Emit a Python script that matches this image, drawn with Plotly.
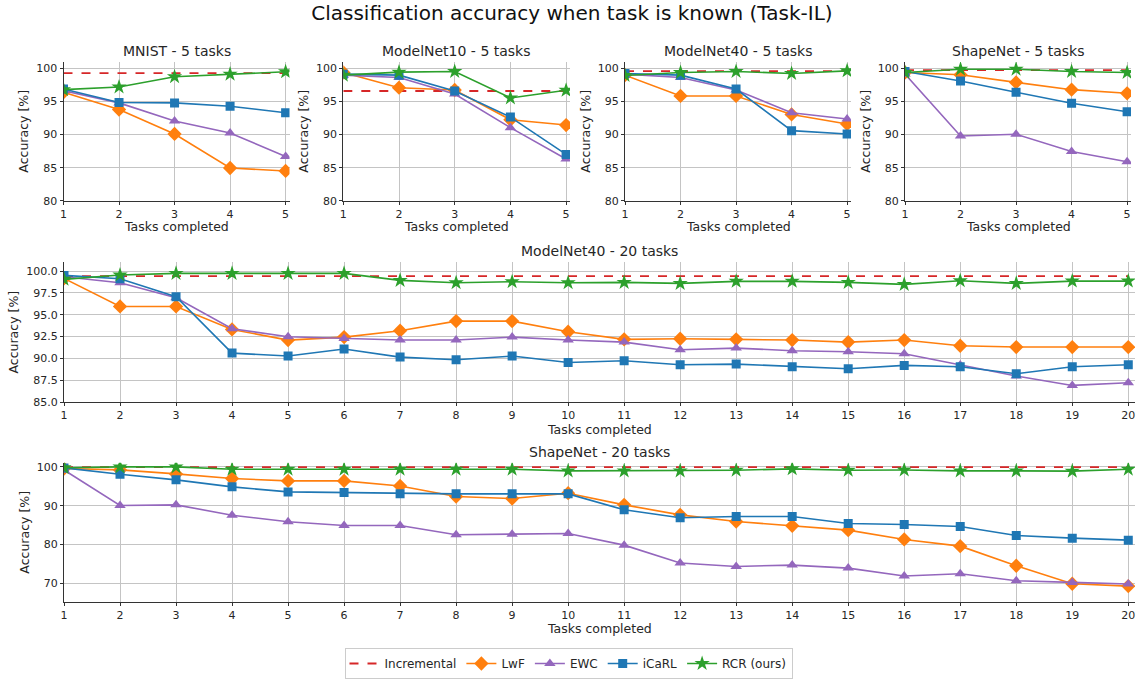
import plotly.graph_objects as go

W, H = 1137, 679

tasks5 = [1, 2, 3, 4, 5]
tasks20 = list(range(1, 21))

# ---- MNIST - 5 tasks
mnist_inc = [99.3, 99.3, 99.3, 99.3, 99.3]
mnist_lwf = [96.4, 93.8, 90.1, 84.95, 84.5]
mnist_ewc = [96.65, 94.8, 92.05, 90.25, 86.7]
mnist_icarl = [96.9, 94.85, 94.8, 94.3, 93.3]
mnist_rcr = [96.8, 97.2, 98.75, 99.15, 99.5]

# ---- ModelNet10 - 5 tasks
mn10_inc = [96.6, 96.6, 96.6, 96.6, 96.6]
mn10_lwf = [99.4, 97.1, 96.75, 92.25, 91.45]
mn10_ewc = [99.0, 98.65, 96.15, 91.05, 86.3]
mn10_icarl = [99.15, 99.0, 96.6, 92.65, 87.0]
mn10_rcr = [99.0, 99.45, 99.55, 95.55, 96.7]

# ---- ModelNet40 - 5 tasks
mn40_inc = [99.6, 99.6, 99.6, 99.6, 99.6]
mn40_lwf = [99.0, 95.85, 95.85, 93.05, 91.6]
mn40_ewc = [99.15, 98.65, 96.75, 93.3, 92.35]
mn40_icarl = [99.25, 99.0, 96.9, 90.6, 90.1]
mn40_rcr = [98.95, 99.4, 99.55, 99.25, 99.65]

# ---- ShapeNet - 5 tasks
sn_inc = [99.75, 99.75, 99.75, 99.75, 99.75]
sn_lwf = [99.4, 99.05, 97.9, 96.8, 96.25]
sn_ewc = [99.15, 89.8, 90.05, 87.45, 85.9]
sn_icarl = [99.55, 98.1, 96.4, 94.75, 93.45]
sn_rcr = [99.4, 99.9, 99.9, 99.55, 99.4]

# ---- ModelNet40 - 20 tasks
mn40_20_inc = [99.43, 99.43, 99.43, 99.43, 99.43, 99.43, 99.43, 99.43, 99.43, 99.43,
               99.43, 99.43, 99.43, 99.43, 99.43, 99.43, 99.43, 99.43, 99.43, 99.43]
mn40_20_lwf = [99.16, 95.95, 95.95, 93.32, 92.1, 92.44, 93.17, 94.27, 94.27, 93.05,
               92.18, 92.25, 92.18, 92.1, 91.87, 92.1, 91.45, 91.3, 91.3, 91.3]
mn40_20_ewc = [99.35, 98.66, 96.95, 93.4, 92.48, 92.29, 92.1, 92.1, 92.44, 92.1,
               91.87, 90.99, 91.18, 90.88, 90.76, 90.53, 89.25, 87.98, 86.91, 87.21]
mn40_20_icarl = [99.5, 99.12, 97.06, 90.61, 90.27, 91.07, 90.15, 89.85, 90.27, 89.54,
                 89.73, 89.27, 89.35, 89.05, 88.82, 89.2, 89.05, 88.24, 89.05, 89.27]
mn40_20_rcr = [99.05, 99.55, 99.73, 99.73, 99.73, 99.73, 98.93, 98.66, 98.78, 98.66,
               98.7, 98.59, 98.82, 98.82, 98.7, 98.47, 98.89, 98.59, 98.85, 98.85]

# ---- ShapeNet - 20 tasks
sn20_inc = [99.95, 99.95, 99.95, 99.95, 99.95, 99.95, 99.95, 99.95, 99.95, 99.95,
            99.95, 99.95, 99.95, 99.95, 99.95, 99.95, 99.95, 99.95, 99.95, 99.95]
sn20_lwf = [99.57, 99.23, 98.2, 97.0, 96.4, 96.4, 95.1, 92.37, 91.86, 93.23,
            90.23, 87.66, 85.95, 84.83, 83.72, 81.32, 79.6, 74.55, 69.92, 69.32]
sn20_ewc = [99.2, 90.06, 90.23, 87.57, 85.86, 84.92, 84.92, 82.52, 82.69, 82.86,
            79.86, 75.24, 74.38, 74.72, 73.95, 71.9, 72.49, 70.69, 70.27, 69.84]
sn20_icarl = [99.74, 98.1, 96.66, 94.86, 93.57, 93.4, 93.06, 93.06, 93.06, 93.06,
              88.95, 86.9, 87.23, 87.23, 85.43, 85.18, 84.66, 82.35, 81.66, 81.15]
sn20_rcr = [99.8, 100.0, 100.0, 99.4, 99.4, 99.4, 99.4, 99.4, 99.4, 98.97,
            98.97, 98.97, 99.14, 99.5, 99.14, 99.2, 98.97, 98.97, 98.9, 99.4]

method_names = ["Incremental", "LwF", "EWC", "iCaRL", "RCR (ours)"]
colors = ["#d62728", "#ff7f0e", "#9467bd", "#1f77b4", "#2ca02c"]
symbols = [None, "diamond", "triangle-up", "square", "star"]
msizes = [0, 11, 10, 9, 11.5]

panels = [
    dict(title="MNIST - 5 tasks", x=tasks5,
         data=[mnist_inc, mnist_lwf, mnist_ewc, mnist_icarl, mnist_rcr],
         xpx=(63.5, 289.5), ypx=(62, 201), yr=[80, 101], xr=[1, 5.07],
         yticks=[80, 85, 90, 95, 100], fmt="d", tpx=51, xtpx=227),
    dict(title="ModelNet10 - 5 tasks", x=tasks5,
         data=[mn10_inc, mn10_lwf, mn10_ewc, mn10_icarl, mn10_rcr],
         xpx=(343.3, 570), ypx=(62, 201), yr=[80, 101], xr=[1, 5.07],
         yticks=[80, 85, 90, 95, 100], fmt="d", tpx=51, xtpx=227),
    dict(title="ModelNet40 - 5 tasks", x=tasks5,
         data=[mn40_inc, mn40_lwf, mn40_ewc, mn40_icarl, mn40_rcr],
         xpx=(625, 851), ypx=(62, 201), yr=[80, 101], xr=[1, 5.07],
         yticks=[80, 85, 90, 95, 100], fmt="d", tpx=51, xtpx=227),
    dict(title="ShapeNet - 5 tasks", x=tasks5,
         data=[sn_inc, sn_lwf, sn_ewc, sn_icarl, sn_rcr],
         xpx=(905, 1131), ypx=(62, 201), yr=[80, 101], xr=[1, 5.07],
         yticks=[80, 85, 90, 95, 100], fmt="d", tpx=51, xtpx=227),
    dict(title="ModelNet40 - 20 tasks", x=tasks20,
         data=[mn40_20_inc, mn40_20_lwf, mn40_20_ewc, mn40_20_icarl, mn40_20_rcr],
         xpx=(64, 1135), ypx=(262.7, 402.7), yr=[85, 101], xr=[1, 20.12],
         yticks=[85, 87.5, 90, 92.5, 95, 97.5, 100], fmt=".1f", tpx=251, xtpx=430),
    dict(title="ShapeNet - 20 tasks", x=tasks20,
         data=[sn20_inc, sn20_lwf, sn20_ewc, sn20_icarl, sn20_rcr],
         xpx=(64, 1135), ypx=(463.5, 602.7), yr=[65.27, 101.05], xr=[1, 20.12],
         yticks=[70, 80, 90, 100], fmt="d", tpx=453, xtpx=629),
]

FONT = "DejaVu Sans"
TXT = "#262626"
fig = go.Figure()
layout = dict(
    width=W, height=H,
    margin=dict(l=0, r=0, t=0, b=0),
    paper_bgcolor="white", plot_bgcolor="white",
    font=dict(family=FONT, color=TXT, size=11),
    showlegend=True,
    title=dict(text="Classification accuracy when task is known (Task-IL)",
               x=0.503, xanchor="center", y=1 - 13 / H, yanchor="middle",
               font=dict(size=20, family=FONT, color="#111")),
    legend=dict(orientation="h", x=0.5, xanchor="center", y=1 - 664 / H, yanchor="middle",
                bordercolor="#cccccc", borderwidth=1, font=dict(size=12, family=FONT),
                itemwidth=30, bgcolor="white", tracegroupgap=0),
)
annotations = []

for i, p in enumerate(panels):
    k = i + 1
    xs = "" if k == 1 else str(k)
    xd = [p["xpx"][0] / W, p["xpx"][1] / W]
    yd = [1 - p["ypx"][1] / H, 1 - p["ypx"][0] / H]
    axis_common = dict(showgrid=True, gridcolor="#c4c4c4", gridwidth=1,
                       showline=True, linecolor="#333333", linewidth=1,
                       ticks="outside", ticklen=3, tickcolor="#333333",
                       tickfont=dict(size=11, family=FONT, color=TXT),
                       zeroline=False, automargin=False, fixedrange=True)
    layout["xaxis" + xs] = dict(axis_common, domain=xd, anchor="y" + xs, range=p["xr"],
                                tickmode="array", tickvals=p["x"],
                                ticktext=[str(v) for v in p["x"]])
    layout["yaxis" + xs] = dict(axis_common, domain=yd, anchor="x" + xs, range=p["yr"],
                                tickmode="array", tickvals=p["yticks"],
                                ticktext=[format(v, ".1f") if p["fmt"] == ".1f" else str(int(v)) for v in p["yticks"]],
                                title=dict(text="Accuracy [%]", standoff=4,
                                           font=dict(size=12.5, family=FONT, color=TXT)))
    annotations.append(dict(text=p["title"], xref="paper", yref="paper",
                            x=(xd[0] + xd[1]) / 2, y=1 - p["tpx"] / H,
                            xanchor="center", yanchor="middle", showarrow=False,
                            font=dict(size=14, family=FONT, color=TXT)))
    annotations.append(dict(text="Tasks completed", xref="paper", yref="paper",
                            x=(xd[0] + xd[1]) / 2, y=1 - p["xtpx"] / H,
                            xanchor="center", yanchor="middle", showarrow=False,
                            font=dict(size=12.5, family=FONT, color=TXT)))
    for m in range(5):
        if m == 0:
            tr = go.Scatter(x=p["x"], y=p["data"][m], mode="lines", name=method_names[m],
                            line=dict(color=colors[m], width=1.8, dash="dash"),
                            xaxis="x" + xs, yaxis="y" + xs, showlegend=(k == 1),
                            legendgroup=method_names[m])
        else:
            tr = go.Scatter(x=p["x"], y=p["data"][m], mode="lines+markers", name=method_names[m],
                            line=dict(color=colors[m], width=1.6),
                            marker=dict(symbol=symbols[m], size=msizes[m], color=colors[m],
                                        line=dict(width=0)),
                            xaxis="x" + xs, yaxis="y" + xs, showlegend=(k == 1),
                            legendgroup=method_names[m])
        fig.add_trace(tr)

layout["annotations"] = annotations
fig.update_layout(**layout)
fig.write_html("out.html", config={"displayModeBar": False},
               post_script="document.body.style.margin='0';document.body.style.padding='0';")
